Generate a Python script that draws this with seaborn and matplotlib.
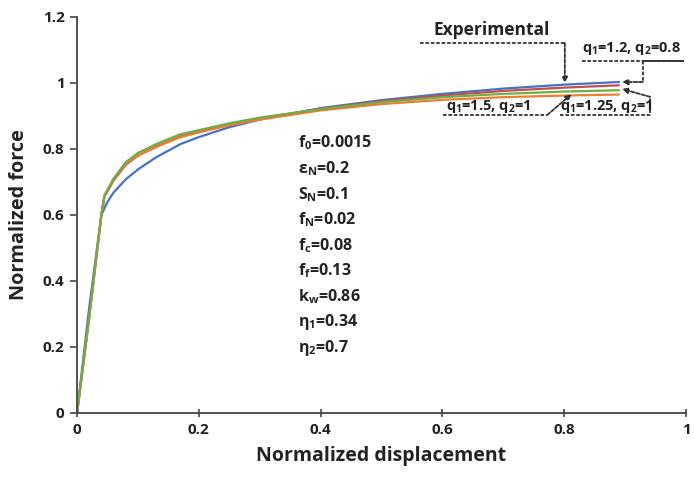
import matplotlib
matplotlib.use("Agg")
import matplotlib.pyplot as plt
import seaborn as sns
import pandas as pd

# ---------------- data ----------------
disp_exp = [0, 0.02, 0.04, 0.05, 0.06, 0.08, 0.10, 0.13, 0.17, 0.20, 0.25, 0.30, 0.40, 0.50, 0.60, 0.70, 0.80, 0.89]
force_exp = [0, 0.32, 0.600, 0.640, 0.668, 0.708, 0.738, 0.775, 0.815, 0.836, 0.866, 0.889, 0.924, 0.948, 0.967, 0.983, 0.995, 1.003]

disp_sim = [0, 0.02, 0.04, 0.045, 0.06, 0.08, 0.10, 0.13, 0.17, 0.20, 0.25, 0.30, 0.40, 0.50, 0.60, 0.70, 0.80, 0.89]
force_q12_08 = [0, 0.29, 0.600, 0.655, 0.705, 0.752, 0.780, 0.808, 0.838, 0.852, 0.874, 0.892, 0.922, 0.945, 0.962, 0.976, 0.986, 0.993]
force_q125_1 = [0, 0.29, 0.600, 0.658, 0.710, 0.760, 0.788, 0.815, 0.845, 0.857, 0.878, 0.895, 0.921, 0.942, 0.957, 0.967, 0.974, 0.978]
force_q15_1 = [0, 0.29, 0.605, 0.660, 0.710, 0.755, 0.780, 0.806, 0.836, 0.850, 0.872, 0.889, 0.917, 0.936, 0.949, 0.957, 0.962, 0.965]

series_names = ["Experimental", "q1=1.2, q2=0.8", "q1=1.5, q2=1", "q1=1.25, q2=1"]
series_colors = ["#4472C4", "#C0504D", "#ED7D31", "#70AD47"]

x_ticks = [0, 0.2, 0.4, 0.6, 0.8, 1]
x_tick_labels = ["0", "0.2", "0.4", "0.6", "0.8", "1"]
y_ticks = [0, 0.2, 0.4, 0.6, 0.8, 1, 1.2]
y_tick_labels = ["0", "0.2", "0.4", "0.6", "0.8", "1", "1.2"]

param_lines = [
    "f$_0$=0.0015",
    "ε$_N$=0.2",
    "S$_N$=0.1",
    "f$_N$=0.02",
    "f$_c$=0.08",
    "f$_f$=0.13",
    "k$_w$=0.86",
    "η$_1$=0.34",
    "η$_2$=0.7",
]

# ---------------- style ----------------
FONT = "Open Sans"
sns.set_style("ticks")
plt.rcParams["font.family"] = [FONT, "DejaVu Sans"]
plt.rcParams["font.weight"] = "bold"
plt.rcParams["mathtext.fontset"] = "custom"
plt.rcParams["mathtext.rm"] = FONT + ":bold"
plt.rcParams["mathtext.it"] = FONT + ":bold"
plt.rcParams["mathtext.bf"] = FONT + ":bold"

rows = []
for x, y in zip(disp_exp, force_exp):
    rows.append({"disp": x, "force": y, "series": series_names[0]})
for name, ys in zip(series_names[1:], [force_q12_08, force_q15_1, force_q125_1]):
    for x, y in zip(disp_sim, ys):
        rows.append({"disp": x, "force": y, "series": name})
df = pd.DataFrame(rows)

fig = plt.figure(figsize=(6.94, 4.80), dpi=100)
ax = fig.add_axes([0.111, 0.1396, 0.8775, 0.825])

sns.lineplot(data=df, x="disp", y="force", hue="series", hue_order=series_names,
             palette=dict(zip(series_names, series_colors)), linewidth=1.6,
             legend=False, ax=ax, sort=False, estimator=None)

ax.set_xlim(0, 1)
ax.set_ylim(0, 1.2)
ax.set_xticks(x_ticks)
ax.set_xticklabels(x_tick_labels)
ax.set_yticks(y_ticks)
ax.set_yticklabels(y_tick_labels)
for lab in ax.get_xticklabels() + ax.get_yticklabels():
    lab.set_fontweight("bold")
    lab.set_fontsize(11)
    lab.set_color("#222222")
ax.tick_params(axis="x", direction="inout", length=6, width=1.2, color="#444444", pad=4)
ax.tick_params(axis="y", direction="out", length=5, width=1.2, color="#444444", pad=4)
sns.despine(ax=ax)
for s in ["left", "bottom"]:
    ax.spines[s].set_color("#444444")
    ax.spines[s].set_linewidth(1.3)

ax.set_xlabel("Normalized displacement", fontsize=14, fontweight="bold", color="#222222", labelpad=7)
ax.set_ylabel("Normalized force", fontsize=14.3, fontweight="bold", color="#222222", labelpad=10)

# ---------------- annotations ----------------
def dashed_callout(points, ax):
    xs = [p[0] for p in points]
    ys = [p[1] for p in points]
    ax.plot(xs[:-1], ys[:-1], linestyle=(0, (2, 1)), color="#333333", linewidth=1.3, clip_on=False)
    ax.annotate("", xy=points[-1], xytext=points[-2],
                arrowprops=dict(arrowstyle="-|>", color="#333333", linewidth=1.3,
                                linestyle=(0, (2, 1)), mutation_scale=8, shrinkA=0, shrinkB=0),
                annotation_clip=False)

ax.text(0.681, 1.161, "Experimental", fontsize=12.5, fontweight="bold", ha="center", va="center", color="#222222")
dashed_callout([(0.563, 1.121), (0.801, 1.121), (0.801, 1.0)], ax)

ax.text(0.911, 1.104, "q$_1$=1.2, q$_2$=0.8", fontsize=10.5, ha="center", va="center", color="#222222", clip_on=False)
dashed_callout([(0.829, 1.067), (0.995, 1.067), (0.929, 1.067), (0.929, 1.003), (0.895, 1.003)], ax)

ax.text(0.675, 0.930, "q$_1$=1.5, q$_2$=1", fontsize=10.5, ha="center", va="center", color="#222222")
dashed_callout([(0.601, 0.903), (0.772, 0.903), (0.812, 0.966)], ax)

ax.text(0.870, 0.930, "q$_1$=1.25, q$_2$=1", fontsize=10.5, ha="center", va="center", color="#222222")
dashed_callout([(0.793, 0.903), (0.941, 0.903), (0.941, 0.958), (0.895, 0.982)], ax)

y0 = 0.818
for i, line in enumerate(param_lines):
    ax.text(0.363, y0 - i * 0.0776, line, fontsize=11.5, ha="left", va="center", color="#222222")

fig.savefig("out.png", dpi=100)
